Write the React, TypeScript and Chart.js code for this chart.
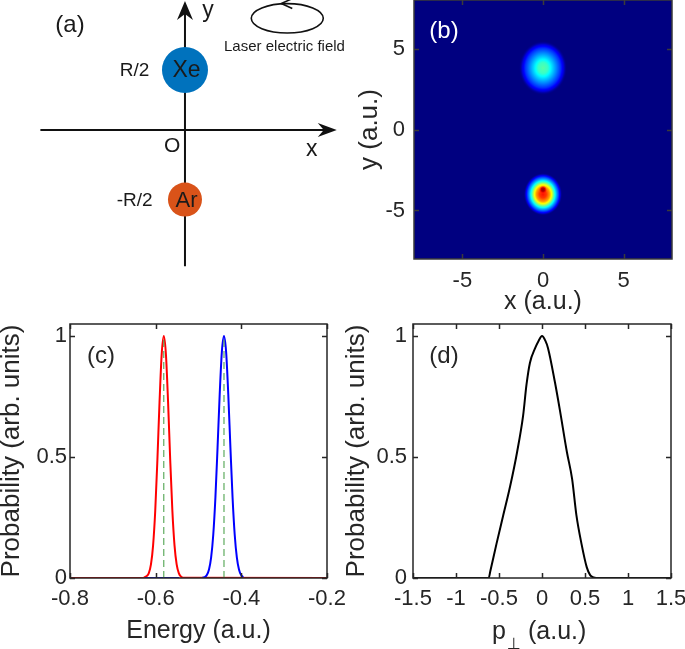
import React, { useEffect, useRef } from 'react';
import { Chart, registerables } from 'chart.js';
Chart.register(...registerables);

const FONT = '"Liberation Sans", Arial, Helvetica, sans-serif';
const INK = '#262626';
const TICK_SIZE = 22;
const XTITLE_SIZE = 25;
const YTITLE_SIZE = 26;

// ---------------- (a) schematic ----------------
const atomNames = ['Xe', 'Ar'];
const atomPosLabels = ['R/2', '-R/2'];
const atomX = [0, 0];
const atomY = [1.0, -1.16];
const atomRadius = [23, 17];
const atomColors = ['#0072BD', '#D95319'];
const atomFont = [23, 22];
const schemXRange = [-3.083, 2.667];
const schemYRange = [-2.5, 2.167];
const axisXSpan = [-2.41, 2.53];
const axisYSpan = [-2.27, 2.15];
const laserCenter = [1.705, 1.862];
const laserRadii = [0.6, 0.245];
const schemTexts = ['(a)', 'y', 'x', 'O', 'Laser electric field'];
const schemTextX = [-1.917, 0.383, 2.112, -0.212, 1.658];
const schemTextY = [1.742, 1.983, -0.333, -0.278, 1.38];
const schemTextSize = [24, 23, 23, 21, 15];

// ---------------- (b) density map ----------------
const mapRange = [-8, 8];
const mapTicks = [-5, 0, 5];
const mapTickLabels = ['-5', '0', '5'];
const blobX = [0, 0, 0];
const blobY = [3.8, -4.0, -3.72];
const blobStretch = [1.12, 1.1, 1.0];
const blobR = [
  [0, 0.3, 0.6, 0.85, 1.1, 1.3, 1.5],
  [0, 0.21, 0.41, 0.55, 0.68, 0.81, 0.95, 1.08, 1.2],
  [0, 0.12, 0.25],
];
const blobV = [
  [0.46, 0.43, 0.33, 0.25, 0.17, 0.08, 0],
  [0.86, 0.82, 0.72, 0.6, 0.45, 0.32, 0.2, 0.08, 0],
  [0.98, 0.93, 0.84],
];

// ---------------- (c) energy spectra ----------------
const energyTicks = [-0.8, -0.6, -0.4, -0.2];
const energyTickLabels = ['-0.8', '-0.6', '-0.4', '-0.2'];
const probTicks = [0, 0.5, 1];
const probTickLabels = ['0', '0.5', '1'];
const redEnergy = [-0.8, -0.63, -0.626, -0.621, -0.616, -0.611, -0.606, -0.601, -0.596, -0.591, -0.586, -0.581, -0.576, -0.571, -0.566, -0.561, -0.556, -0.551, -0.546, -0.541, -0.536, -0.2];
const redProb = [0, 0, 0.003, 0.008, 0.02, 0.056, 0.135, 0.278, 0.487, 0.726, 0.923, 1, 0.923, 0.726, 0.487, 0.278, 0.135, 0.056, 0.02, 0.006, 0.001, 0];
const blueEnergy = [-0.625, -0.545, -0.54, -0.4905, -0.4855, -0.4805, -0.4755, -0.4705, -0.4655, -0.4605, -0.4555, -0.4505, -0.4455, -0.4405, -0.4355, -0.4305, -0.4255, -0.4205, -0.4155, -0.4105, -0.4055, -0.4005, -0.3955];
const blueProb = [0, 0, null, 0.001, 0.004, 0.012, 0.035, 0.085, 0.18, 0.334, 0.54, 0.76, 0.934, 1, 0.934, 0.76, 0.54, 0.334, 0.18, 0.085, 0.035, 0.012, 0.004];
const levelEnergy = [-0.581, -0.4405];

// ---------------- (d) transverse momentum ----------------
const pTicks = [-1.5, -1, -0.5, 0, 0.5, 1, 1.5];
const pTickLabels = ['-1.5', '-1', '-0.5', '0', '0.5', '1', '1.5'];
const pPerp = [-1.5, -0.62, -0.6, -0.53, -0.45, -0.37, -0.29, -0.22, -0.18, -0.14, -0.08, -0.04, 0, 0.04, 0.07, 0.15, 0.21, 0.29, 0.35, 0.4, 0.46, 0.52, 0.56, 0.6, 0.63, 1.5];
const pProb = [0, 0, 0.03, 0.14, 0.26, 0.38, 0.52, 0.67, 0.8, 0.89, 0.95, 0.98, 1.0, 0.98, 0.95, 0.81, 0.69, 0.52, 0.41, 0.26, 0.14, 0.045, 0.012, 0.002, 0, 0];

// ---------------- helpers ----------------
function jet(t: number): [number, number, number] {
  const c = (v: number) => Math.max(0, Math.min(1, v));
  return [
    Math.round(c(1.5 - Math.abs(4 * t - 3)) * 255),
    Math.round(c(1.5 - Math.abs(4 * t - 2)) * 255),
    Math.round(c(1.5 - Math.abs(4 * t - 1)) * 255),
  ];
}

function makeScale(o: any) {
  const horiz = o.pos === 'x';
  return {
    type: 'linear',
    position: horiz ? 'bottom' : 'left',
    min: o.min,
    max: o.max,
    grid: { display: false, drawTicks: false },
    border: { display: false },
    afterBuildTicks: (s: any) => {
      s.ticks = o.ticks.map((v: number) => ({ value: v }));
    },
    afterFit: (s: any) => {
      if (horiz) s.height = o.size;
      else s.width = o.size;
      s.paddingTop = 0;
      s.paddingBottom = 0;
      s.paddingLeft = 0;
      s.paddingRight = 0;
    },
    ticks: {
      color: INK,
      font: { family: FONT, size: TICK_SIZE },
      padding: o.pad,
      autoSkip: false,
      maxRotation: 0,
      minRotation: 0,
      callback: (_v: any, i: number) => o.labels[i],
    },
    title: o.title
      ? { display: true, text: o.title, color: INK, font: { family: FONT, size: horiz ? XTITLE_SIZE : YTITLE_SIZE }, padding: o.titlePad }
      : { display: false },
  };
}

const boxPlugin = {
  id: 'box',
  afterDraw(chart: any, _a: any, opts: any) {
    const { ctx, chartArea: a, scales } = chart;
    ctx.save();
    ctx.strokeStyle = opts.color || INK;
    ctx.lineWidth = 1.5;
    ctx.strokeRect(a.left, a.top, a.right - a.left, a.bottom - a.top);
    const L = 5;
    ctx.beginPath();
    for (const t of scales.x.ticks) {
      const px = Math.round(scales.x.getPixelForValue(t.value)) + 0.5;
      ctx.moveTo(px, a.bottom);
      ctx.lineTo(px, a.bottom - L);
      ctx.moveTo(px, a.top);
      ctx.lineTo(px, a.top + L);
    }
    for (const t of scales.y.ticks) {
      const py = Math.round(scales.y.getPixelForValue(t.value)) + 0.5;
      ctx.moveTo(a.left, py);
      ctx.lineTo(a.left + L, py);
      ctx.moveTo(a.right, py);
      ctx.lineTo(a.right - L, py);
    }
    ctx.stroke();
    if (opts.label) {
      ctx.fillStyle = opts.labelColor || INK;
      ctx.font = `24px ${FONT}`;
      ctx.textAlign = 'center';
      ctx.textBaseline = 'middle';
      ctx.fillText(opts.label, a.left + opts.labelDx, a.top + opts.labelDy);
    }
    ctx.restore();
  },
};

const heatPlugin = {
  id: 'heat',
  beforeDatasetsDraw(chart: any) {
    const { ctx, chartArea: a, scales } = chart;
    const xs = scales.x;
    const ys = scales.y;
    ctx.save();
    ctx.beginPath();
    ctx.rect(a.left, a.top, a.right - a.left, a.bottom - a.top);
    ctx.clip();
    const bg = jet(0);
    ctx.fillStyle = `rgb(${bg[0]},${bg[1]},${bg[2]})`;
    ctx.fillRect(a.left, a.top, a.right - a.left, a.bottom - a.top);
    for (let b = 0; b < blobX.length; b++) {
      const cx = xs.getPixelForValue(blobX[b]);
      const cy = ys.getPixelForValue(blobY[b]);
      const rs = blobR[b];
      const vs = blobV[b];
      const Rmax = rs[rs.length - 1];
      const Rpx = Math.abs(xs.getPixelForValue(Rmax) - xs.getPixelForValue(0));
      const sy = (Math.abs(ys.getPixelForValue(Rmax) - ys.getPixelForValue(0)) / Rpx) * blobStretch[b];
      ctx.save();
      ctx.translate(cx, cy);
      ctx.scale(1, sy);
      const g = ctx.createRadialGradient(0, 0, 0, 0, 0, Rpx);
      const sub = 8;
      for (let k = 0; k < rs.length - 1; k++) {
        for (let s = 0; s < sub; s++) {
          const f = s / sub;
          const r = rs[k] + (rs[k + 1] - rs[k]) * f;
          const v = vs[k] + (vs[k + 1] - vs[k]) * f;
          const col = jet(v);
          const isLastSeg = k === rs.length - 2;
          const alpha = isLastSeg ? 1 - f : 1;
          g.addColorStop(r / Rmax, `rgba(${col[0]},${col[1]},${col[2]},${alpha})`);
        }
      }
      const cl = jet(vs[vs.length - 1]);
      g.addColorStop(1, `rgba(${cl[0]},${cl[1]},${cl[2]},0)`);
      ctx.fillStyle = g;
      ctx.beginPath();
      ctx.arc(0, 0, Rpx, 0, Math.PI * 2);
      ctx.fill();
      ctx.restore();
    }
    ctx.restore();
  },
};

function arrowHead(ctx: any, tx: number, ty: number, dx: number, dy: number, len: number, half: number, notch: number) {
  const px = -dy;
  const py = dx;
  ctx.beginPath();
  ctx.moveTo(tx, ty);
  ctx.lineTo(tx - dx * len + px * half, ty - dy * len + py * half);
  ctx.lineTo(tx - dx * (len - notch), ty - dy * (len - notch));
  ctx.lineTo(tx - dx * len - px * half, ty - dy * len - py * half);
  ctx.closePath();
  ctx.fill();
}

const schemPlugin = {
  id: 'schem',
  beforeDatasetsDraw(chart: any) {
    const { ctx, scales } = chart;
    const X = (v: number) => scales.x.getPixelForValue(v);
    const Y = (v: number) => scales.y.getPixelForValue(v);
    ctx.save();
    ctx.strokeStyle = '#111';
    ctx.fillStyle = '#111';
    ctx.lineWidth = 2;
    const y0 = Y(0);
    const x0 = X(0);
    ctx.beginPath();
    ctx.moveTo(X(axisXSpan[0]), y0);
    ctx.lineTo(X(axisXSpan[1]) - 8, y0);
    ctx.stroke();
    arrowHead(ctx, X(axisXSpan[1]), y0, 1, 0, 19, 7, 6);
    ctx.beginPath();
    ctx.moveTo(x0, Y(axisYSpan[0]));
    ctx.lineTo(x0, Y(axisYSpan[1]) + 8);
    ctx.stroke();
    arrowHead(ctx, x0, Y(axisYSpan[1]), 0, -1, 19, 8, 6);
    const ecx = X(laserCenter[0]);
    const ecy = Y(laserCenter[1]);
    const erx = Math.abs(X(laserRadii[0]) - X(0));
    const ery = Math.abs(Y(laserRadii[1]) - Y(0));
    ctx.lineWidth = 1.6;
    ctx.beginPath();
    ctx.ellipse(ecx, ecy, erx, ery, 0, 0, Math.PI * 2);
    ctx.stroke();
    const ax = ecx - 6;
    const ay = ecy - ery;
    ctx.beginPath();
    ctx.moveTo(ax + 11, ay - 5);
    ctx.lineTo(ax, ay);
    ctx.lineTo(ax + 11, ay + 5);
    ctx.stroke();
    ctx.restore();
  },
  afterDatasetsDraw(chart: any) {
    const { ctx, scales } = chart;
    const X = (v: number) => scales.x.getPixelForValue(v);
    const Y = (v: number) => scales.y.getPixelForValue(v);
    ctx.save();
    ctx.fillStyle = '#1a1a1a';
    ctx.textAlign = 'center';
    ctx.textBaseline = 'middle';
    for (let i = 0; i < schemTexts.length; i++) {
      ctx.font = `${schemTextSize[i]}px ${FONT}`;
      ctx.fillText(schemTexts[i], X(schemTextX[i]), Y(schemTextY[i]));
    }
    for (let i = 0; i < atomNames.length; i++) {
      ctx.font = `${atomFont[i]}px ${FONT}`;
      ctx.fillText(atomNames[i], X(atomX[i]) + 1.5, Y(atomY[i]) + 1);
      ctx.font = `19px ${FONT}`;
      ctx.fillText(atomPosLabels[i], X(atomX[i] - 0.84), Y(atomY[i]) + 1);
    }
    ctx.restore();
  },
};

const pTitlePlugin = {
  id: 'ptitle',
  afterDraw(chart: any) {
    const { ctx, chartArea: a } = chart;
    const c = (a.left + a.right) / 2;
    ctx.save();
    ctx.fillStyle = INK;
    ctx.textBaseline = 'alphabetic';
    ctx.textAlign = 'left';
    ctx.font = `25px ${FONT}`;
    ctx.fillText('p', c - 50, a.bottom + 61);
    ctx.fillText('(a.u.)', c - 14, a.bottom + 61);
    ctx.font = `16px "DejaVu Sans", ${FONT}`;
    ctx.textAlign = 'center';
    ctx.fillText('\u22A5', c - 28, a.bottom + 71);
    ctx.restore();
  },
};

const baseOptions = (padding: any) => ({
  responsive: false,
  animation: false as const,
  events: [] as any[],
  layout: { padding, autoPadding: false },
  plugins: { legend: { display: false }, tooltip: { enabled: false } },
});

function pts(xs: number[], ys: (number | null)[]) {
  return xs.map((x, i) => ({ x, y: ys[i] }));
}

export default function App() {
  const refA = useRef<HTMLCanvasElement>(null);
  const refB = useRef<HTMLCanvasElement>(null);
  const refC = useRef<HTMLCanvasElement>(null);
  const refD = useRef<HTMLCanvasElement>(null);

  useEffect(() => {
    const charts: Chart[] = [];

    charts.push(
      new Chart(refA.current as HTMLCanvasElement, {
        type: 'scatter',
        data: {
          datasets: [
            {
              data: pts(atomX, atomY),
              pointRadius: atomRadius,
              pointBackgroundColor: atomColors,
              pointBorderWidth: 0,
              pointBorderColor: atomColors,
              clip: false,
            } as any,
          ],
        },
        options: {
          ...baseOptions(0),
          scales: {
            x: { type: 'linear', display: false, min: schemXRange[0], max: schemXRange[1] },
            y: { type: 'linear', display: false, min: schemYRange[0], max: schemYRange[1] },
          },
        } as any,
        plugins: [schemPlugin],
      })
    );

    charts.push(
      new Chart(refB.current as HTMLCanvasElement, {
        type: 'scatter',
        data: { datasets: [{ data: pts(blobX, blobY), pointRadius: 0 } as any] },
        options: {
          ...baseOptions({ top: 1, right: 13, left: 0, bottom: 0 }),
          scales: {
            x: makeScale({ pos: 'x', min: mapRange[0], max: mapRange[1], ticks: mapTicks, labels: mapTickLabels, pad: 9, size: 61, title: 'x (a.u.)', titlePad: { top: 0, bottom: 2.6 } }),
            y: makeScale({ pos: 'y', min: mapRange[0], max: mapRange[1], ticks: mapTicks, labels: mapTickLabels, pad: 9, size: 69, title: 'y (a.u.)', titlePad: { top: 9, bottom: 0 } }),
          },
          plugins: { legend: { display: false }, tooltip: { enabled: false }, box: { color: '#3a3a3a', label: '(b)', labelColor: '#ffffff', labelDx: 30, labelDy: 31 } },
        } as any,
        plugins: [heatPlugin, boxPlugin],
      })
    );

    charts.push(
      new Chart(refC.current as HTMLCanvasElement, {
        type: 'scatter',
        data: {
          datasets: [
            ...levelEnergy.map((e) => ({
              data: [{ x: e, y: 0 }, { x: e, y: 1 }],
              showLine: true,
              borderColor: '#3f9a3f',
              borderWidth: 1,
              borderDash: [7, 4],
              pointRadius: 0,
            })),
            {
              data: pts(blueEnergy, blueProb),
              showLine: true,
              spanGaps: false,
              borderColor: '#0000ff',
              borderWidth: 2,
              pointRadius: 0,
              cubicInterpolationMode: 'monotone',
            },
            {
              data: pts(redEnergy, redProb),
              showLine: true,
              borderColor: '#ff0000',
              borderWidth: 2,
              pointRadius: 0,
              cubicInterpolationMode: 'monotone',
            },
          ] as any,
        },
        options: {
          ...baseOptions({ top: 14, right: 18, left: 0, bottom: 0 }),
          scales: {
            x: makeScale({ pos: 'x', min: -0.8, max: -0.2, ticks: energyTicks, labels: energyTickLabels, pad: 8, size: 71, title: 'Energy (a.u.)', titlePad: { top: 0, bottom: 2.6 } }),
            y: makeScale({ pos: 'y', min: 0, max: 1.05, ticks: probTicks, labels: probTickLabels, pad: 3, size: 74, title: 'Probability (arb. units)', titlePad: { top: 0, bottom: 0 } }),
          },
          plugins: { legend: { display: false }, tooltip: { enabled: false }, box: { label: '(c)', labelDx: 31, labelDy: 32 } },
        } as any,
        plugins: [boxPlugin],
      })
    );

    charts.push(
      new Chart(refD.current as HTMLCanvasElement, {
        type: 'scatter',
        data: {
          datasets: [
            {
              data: pts(pPerp, pProb),
              showLine: true,
              borderColor: '#000000',
              borderWidth: 2,
              pointRadius: 0,
              cubicInterpolationMode: 'monotone',
            },
          ] as any,
        },
        options: {
          ...baseOptions({ top: 14, right: 14, left: 0, bottom: 0 }),
          scales: {
            x: makeScale({ pos: 'x', min: -1.5, max: 1.5, ticks: pTicks, labels: pTickLabels, pad: 8, size: 71 }),
            y: makeScale({ pos: 'y', min: 0, max: 1.05, ticks: probTicks, labels: probTickLabels, pad: 6, size: 68, title: 'Probability (arb. units)', titlePad: { top: -4, bottom: 0 } }),
          },
          plugins: { legend: { display: false }, tooltip: { enabled: false }, box: { label: '(d)', labelDx: 31, labelDy: 32 } },
        } as any,
        plugins: [boxPlugin, pTitlePlugin],
      })
    );

    return () => charts.forEach((c) => c.destroy());
  }, []);

  const pos = (left: number, top: number): React.CSSProperties => ({ position: 'absolute', left, top });

  return (
    <div style={{ position: 'absolute', left: 0, top: 0, width: 685, height: 649, overflow: 'hidden', background: '#ffffff' }}>
      <canvas ref={refA} width={345} height={280} style={pos(0, 0)} />
      <canvas ref={refB} width={340} height={321} style={pos(345, -1)} />
      <canvas ref={refC} width={349} height={339} style={pos(-4, 310)} />
      <canvas ref={refD} width={340} height={339} style={pos(345, 310)} />
    </div>
  );
}
